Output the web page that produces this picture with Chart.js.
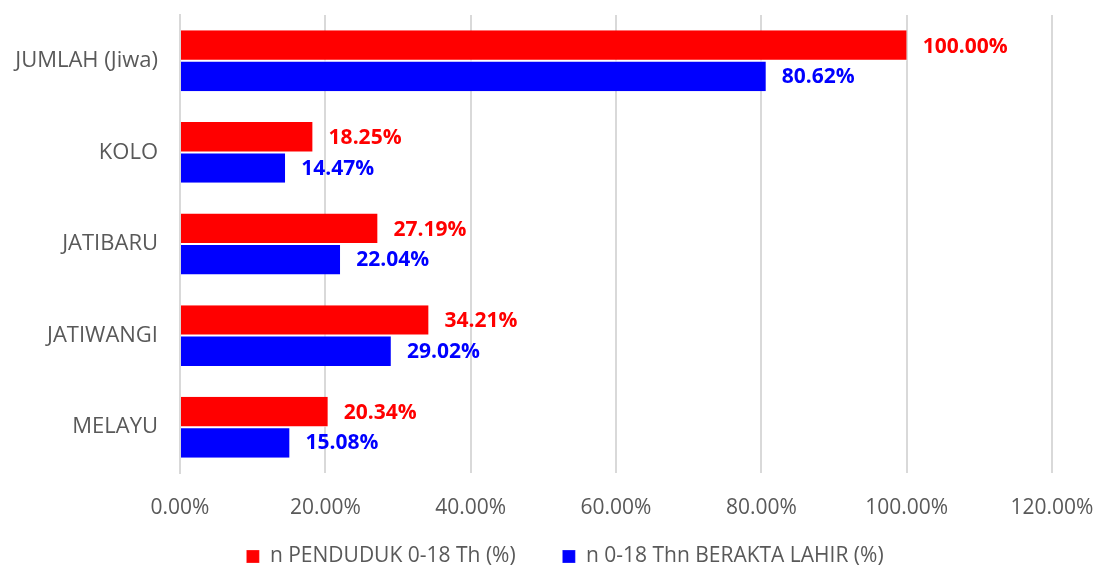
<!DOCTYPE html>
<html>
<head>
<meta charset="utf-8">
<script src="https://cdn.jsdelivr.net/npm/chart.js@4/dist/chart.umd.min.js"></script>
<style>
  html, body { margin: 0; padding: 0; background: #fff; }
  #wrap { width: 1097px; height: 568px; }
</style>
</head>
<body>
<div id="wrap"><canvas id="chart"></canvas></div>
<script>
let categories = ['JUMLAH (Jiwa)', 'KOLO', 'JATIBARU', 'JATIWANGI', 'MELAYU'];
let pendudukValues = [100.00, 18.25, 27.19, 34.21, 20.34];
let aktaValues = [80.62, 14.47, 22.04, 29.02, 15.08];
let seriesNames = ['n PENDUDUK 0-18 Th (%)', 'n 0-18 Thn BERAKTA LAHIR (%)'];
let xTicks = [0, 20, 40, 60, 80, 100, 120];

const fontFamily = "'Open Sans', 'Noto Sans', sans-serif";

// bold percentage text right of each bar
const valueLabels = {
    id: 'valueLabels',
    afterDatasetsDraw(chart) {
        let ctx = chart.ctx;
        ctx.save();
        ctx.font = 'bold 21px ' + fontFamily;
        ctx.textBaseline = 'middle';
        ctx.textAlign = 'left';
        chart.data.datasets.forEach(function(ds, i) {
            let meta = chart.getDatasetMeta(i);
            ctx.fillStyle = ds.backgroundColor;
            meta.data.forEach(function(bar, j) {
                ctx.fillText(ds.data[j].toFixed(2) + '%', bar.x + 16, bar.y + 1);
            });
        });
        ctx.restore();
    }
};

// legend sits a little right of centre and lower in the original
const legendShift = {
    id: 'legendShift',
    afterLayout(chart) {
        let lg = chart.legend;
        lg.left += 39;
        lg.right += 39;
        lg.top += 9;
        lg.bottom += 9;
    }
};

new Chart(document.getElementById('chart').getContext('2d'), {
    type: 'bar',
    data: {
        labels: categories,
        datasets: [{
            label: seriesNames[0],
            data: pendudukValues,
            backgroundColor: '#ff0000',
            borderColor: '#ffffff',
            borderWidth: { bottom: 1, top: 0, left: 0, right: 0 },
            borderSkipped: false
        }, {
            label: seriesNames[1],
            data: aktaValues,
            backgroundColor: '#0000ff',
            borderColor: '#ffffff',
            borderWidth: { top: 1, bottom: 0, left: 0, right: 0 },
            borderSkipped: false
        }]
    },
    options: {
        indexAxis: 'y',
        responsive: true,
        maintainAspectRatio: false,
        animation: false,
        categoryPercentage: 0.665,
        barPercentage: 1.0,
        layout: { padding: { top: 15, right: 45, bottom: 0, left: 0 } },
        scales: {
            x: {
                min: 0,
                max: 120,
                afterBuildTicks: function(scale) {
                    scale.ticks = xTicks.map(v => ({ value: v }));
                },
                afterFit: function(scale) {
                    scale.height = 54;
                    scale.paddingLeft = 0;
                    scale.paddingRight = 0;
                },
                grid: { color: '#d9d9d9', lineWidth: 2, drawTicks: false },
                border: { display: false },
                ticks: {
                    color: '#595959',
                    padding: 22,
                    font: { family: fontFamily, size: 21 },
                    callback: v => v.toFixed(2) + '%'
                }
            },
            y: {
                afterFit: function(scale) {
                    scale.width = 180;
                    scale.paddingTop = 0;
                    scale.paddingBottom = 0;
                },
                grid: { display: false, drawTicks: false },
                border: { color: '#d9d9d9', width: 2 },
                ticks: {
                    color: '#595959',
                    padding: 22,
                    font: { family: fontFamily, size: 22 }
                }
            }
        },
        plugins: {
            legend: {
                position: 'bottom',
                labels: {
                    color: '#595959',
                    boxWidth: 13,
                    boxHeight: 13,
                    padding: 10,
                    font: { family: fontFamily, size: 21 },
                    generateLabels: function(chart) {
                        let items = Chart.defaults.plugins.legend.labels.generateLabels(chart);
                        items[0].text = items[0].text + '\u2003\u2002\u2005';
                        return items;
                    }
                }
            },
            tooltip: { enabled: false }
        }
    },
    plugins: [valueLabels, legendShift]
});
</script>
</body>
</html>
